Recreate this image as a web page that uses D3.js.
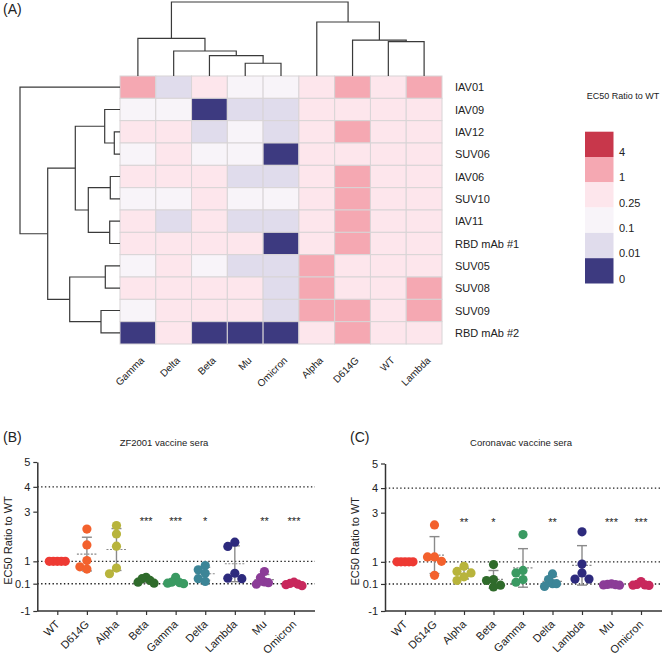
<!DOCTYPE html>
<html>
<head>
<meta charset="utf-8">
<script src="https://cdn.jsdelivr.net/npm/d3@7"></script>
<style>
  html, body { margin: 0; padding: 0; background: #fff; }
  svg { display: block; font-family: "Liberation Sans", Arial, sans-serif; }
  text { fill: #222; }
</style>
</head>
<body>
<svg id="chart" width="667" height="655"></svg>
<script>
// ---------------- DATA ----------------
// Heatmap (A)
const heatCols = ["Gamma", "Delta", "Beta", "Mu", "Omicron", "Alpha", "D614G", "WT", "Lambda"];
const heatRows = ["IAV01", "IAV09", "IAV12", "SUV06", "IAV06", "SUV10", "IAV11", "RBD mAb #1", "SUV05", "SUV08", "SUV09", "RBD mAb #2"];
const heatValues = [
  [1, 0.01, 0.25, 0.1, 0.1, 0.25, 1, 0.25, 1],
  [0.1, 0.1, 0, 0.01, 0.01, 0.25, 0.25, 0.25, 0.25],
  [0.25, 0.25, 0.01, 0.1, 0.01, 0.25, 1, 0.25, 0.25],
  [0.1, 0.25, 0.1, 0.1, 0, 0.25, 0.25, 0.25, 0.25],
  [0.25, 0.25, 0.25, 0.01, 0.01, 0.25, 1, 0.25, 0.25],
  [0.1, 0.1, 0.25, 0.1, 0.1, 0.25, 1, 0.25, 0.25],
  [0.25, 0.01, 0.25, 0.01, 0.01, 0.25, 1, 0.25, 0.25],
  [0.25, 0.25, 0.25, 0.25, 0, 0.25, 1, 0.25, 0.25],
  [0.1, 0.25, 0.1, 0.01, 0.01, 1, 0.25, 0.25, 0.25],
  [0.25, 0.25, 0.25, 0.25, 0.01, 1, 0.25, 0.25, 1],
  [0.1, 0.25, 0.25, 0.25, 0.01, 1, 1, 0.25, 1],
  [0, 0.25, 0, 0, 0, 0.25, 1, 0.25, 0.25]
];
const legendValues = [4, 1, 0.25, 0.1, 0.01, 0];
const legendColors = ["#c8374b", "#f5a8b2", "#fde6ec", "#f8f4f9", "#e0dcec", "#3d3a80"];

// Dendrogram merges: [childA, childB, height]; "n#" refers to earlier merge
const colMerges = [
  ["Mu", "Omicron", 1.72],
  ["Beta", "n0", 2.74],
  ["Delta", "n1", 3.38],
  ["Gamma", "n2", 5.09],
  ["WT", "Lambda", 4.64],
  ["D614G", "n4", 4.86],
  ["Alpha", "n5", 7.3],
  ["n3", "n6", 10.0]
];
const rowMerges = [
  ["IAV12", "SUV06", 0.57],
  ["IAV09", "n0", 1.53],
  ["IAV06", "SUV10", 0.97],
  ["IAV11", "RBD mAb #1", 1.03],
  ["n2", "n3", 3.17],
  ["n1", "n4", 4.47],
  ["SUV05", "SUV08", 1.47],
  ["SUV09", "RBD mAb #2", 1.9],
  ["n6", "n7", 5.03],
  ["n5", "n8", 7.23],
  ["IAV01", "n9", 10.0]
];

// Scatter panels (B) and (C)
const variants = ["WT", "D614G", "Alpha", "Beta", "Gamma", "Delta", "Lambda", "Mu", "Omicron"];
const variantColors = ["#ee3a33", "#f3612d", "#b8b43c", "#2f6b2b", "#3a9a62", "#3c8597", "#2d2a7d", "#8b3c97", "#c8285c"];
const yTicks = [-1, 0.1, 1, 3, 4, 5];
const refLines = [4, 1, 0.1];
const zf2001Values = [
  [1, 1, 1, 1, 1],
  [2.30, 1.66, 1.03, 0.78, 0.69],
  [2.44, 2.10, 1.61, 0.73, 0.50],
  [0.36, 0.30, 0.23, 0.16, 0.12],
  [0.36, 0.16, 0.14, 0.12, 0.10],
  [0.83, 0.66, 0.52, 0.30, 0.19],
  [1.77, 1.60, 0.52, 0.32, 0.30],
  [0.59, 0.34, 0.17, 0.14, 0.08],
  [0.16, 0.11, 0.08, 0.06, 0.02]
];
const coronavacValues = [
  [1, 1, 1, 1, 1],
  [2.50, 1.20, 1.20, 1.02, 0.45],
  [0.82, 0.61, 0.55, 0.39, 0.24],
  [0.89, 0.28, 0.24, 0.05, -0.02],
  [2.11, 0.65, 0.55, 0.28, 0.17],
  [0.51, 0.28, 0.11, 0.11, 0.00],
  [2.22, 0.91, 0.55, 0.30, 0.30],
  [0.10, 0.08, 0.07, 0.06, 0.05],
  [0.20, 0.08, 0.06, 0.05, 0.04]
];
const zf2001Sig = ["", "", "", "***", "***", "*", "", "**", "***"];
const coronavacSig = ["", "", "**", "*", "", "**", "", "***", "***"];
const sigLevel = 2.72;

// ---------------- DRAW ----------------
const svg = d3.select("#chart");
const FONT = "\"Liberation Sans\", Arial, sans-serif";

// ===== Panel A =====
svg.append("text").attr("x", 3).attr("y", 14).attr("font-size", 14).text("(A)");

const xH = d3.scaleBand().domain(heatCols).range([120, 442]);
const yH = d3.scaleBand().domain(heatRows).range([76, 344]);
const color = d3.scaleOrdinal().domain(legendValues).range(legendColors);

const gH = svg.append("g");
heatRows.forEach((r, i) => {
  heatCols.forEach((c, j) => {
    gH.append("rect")
      .attr("x", xH(c)).attr("y", yH(r))
      .attr("width", xH.bandwidth()).attr("height", yH.bandwidth())
      .attr("fill", color(heatValues[i][j]))
      .attr("stroke", "#d8d4d6").attr("stroke-width", 1);
  });
});

// row labels
heatRows.forEach(r => {
  svg.append("text").attr("x", 455).attr("y", yH(r) + yH.bandwidth() / 2 + 4)
    .attr("font-size", 11).text(r);
});
// column labels
heatCols.forEach(c => {
  const cx = xH(c) + xH.bandwidth() / 2;
  svg.append("text").attr("transform", `translate(${cx + 7},${361}) rotate(-45)`)
    .attr("text-anchor", "end").attr("font-size", 10).text(c);
});

// dendrograms
function drawDendro(merges, leafPos, hScale, orient) {
  const nodes = [];
  const pos = name => name.startsWith("n") && /^n\d+$/.test(name) ? nodes[+name.slice(1)] : { p: leafPos(name), h: 0 };
  const g = svg.append("g").attr("fill", "none").attr("stroke", "#3a3a3a").attr("stroke-width", 1.2);
  merges.forEach(([a, b, h]) => {
    const A = pos(a), B = pos(b);
    const node = { p: (A.p + B.p) / 2, h: h };
    nodes.push(node);
    const pts = [[A.p, A.h], [A.p, h], [B.p, h], [B.p, B.h]];
    const line = d3.line()
      .x(d => orient === "top" ? d[0] : hScale(d[1]))
      .y(d => orient === "top" ? hScale(d[1]) : d[0]);
    g.append("path").attr("d", line(pts));
  });
}
drawDendro(colMerges, c => xH(c) + xH.bandwidth() / 2, d3.scaleLinear().domain([0, 10]).range([76, 2]), "top");
drawDendro(rowMerges, r => yH(r) + yH.bandwidth() / 2, d3.scaleLinear().domain([0, 10]).range([120, 20]), "left");

// legend
svg.append("text").attr("x", 623).attr("y", 99).attr("text-anchor", "middle")
  .attr("font-size", 9).text("EC50 Ratio to WT");
const yL = d3.scaleBand().domain(legendValues).range([131.7, 283.5]);
legendValues.forEach(v => {
  svg.append("rect").attr("x", 585).attr("y", yL(v)).attr("width", 28.5).attr("height", yL.bandwidth())
    .attr("fill", color(v));
  svg.append("text").attr("x", 619).attr("y", yL(v) + yL.bandwidth() - 1)
    .attr("font-size", 11).text(v);
});

// ===== Panels B & C =====
function swarm(vals, y, step, minD, maxOff) {
  const order = vals.map((v, i) => i).sort((a, b) => vals[b] - vals[a]);
  const placed = [];
  const off = new Array(vals.length).fill(0);
  order.forEach(i => {
    const py = y(vals[i]);
    for (let k = 0; k < 30; k++) {
      const dx = k === 0 ? 0 : (k % 2 ? -1 : 1) * Math.ceil(k / 2) * step;
      if (placed.every(p => Math.hypot(p.dx - dx, p.y - py) >= minD - 0.01)) {
        off[i] = dx; placed.push({ dx, y: py }); break;
      }
    }
  });
  const m = d3.max(off, Math.abs);
  if (m > maxOff) return off.map(o => o * maxOff / m);
  return off;
}

function drawPanel(opt) {
  const g = svg.append("g");
  const y = d3.scaleLinear().domain([-1, 5]).range([611, opt.top]);
  const x = d3.scalePoint().domain(variants).range([opt.x0 + 20, opt.x1 - 21]);

  g.append("text").attr("x", opt.labelX).attr("y", 442).attr("font-size", 14).text(opt.tag);
  g.append("text").attr("x", opt.titleX).attr("y", 446).attr("text-anchor", "middle")
    .attr("font-size", 9.5).text(opt.title);

  // reference dotted lines
  refLines.forEach(v => {
    g.append("line").attr("x1", opt.x0).attr("x2", opt.x1).attr("y1", y(v)).attr("y2", y(v))
      .attr("stroke", "#222").attr("stroke-width", 1.4).attr("stroke-dasharray", "1.4,2.4");
  });

  // y axis
  const ya = g.append("g").attr("transform", `translate(${opt.x0},0)`)
    .call(d3.axisLeft(y).tickValues(yTicks).tickSize(4).tickSizeOuter(0).tickPadding(3).tickFormat(d => String(d)));
  ya.select(".domain").attr("stroke", "#333").attr("stroke-width", 1.5);
  ya.selectAll(".tick line").attr("stroke", "#333").attr("stroke-width", 1.2);
  ya.selectAll(".tick text").attr("font-size", 11).attr("font-family", FONT).attr("fill", "#222");

  // x axis
  const xa = g.append("g").attr("transform", `translate(0,611)`)
    .call(d3.axisBottom(x).tickSize(4).tickSizeOuter(0).tickFormat(""));
  xa.select(".domain").remove();
  xa.selectAll(".tick line").attr("stroke", "#333").attr("stroke-width", 1.2);
  g.append("line").attr("x1", opt.x0).attr("x2", opt.x1).attr("y1", 611).attr("y2", 611)
    .attr("stroke", "#333").attr("stroke-width", 1.5);
  variants.forEach(v => {
    g.append("text").attr("transform", `translate(${x(v) + 3},625) rotate(-45)`)
      .attr("text-anchor", "end").attr("font-size", 11).text(v);
  });

  // y label
  g.append("text").attr("transform", `translate(${opt.yLabelX},${(y(-1) + y(5)) / 2 + 4}) rotate(-90)`)
    .attr("text-anchor", "middle").attr("font-size", 11).text("EC50 Ratio to WT");

  // groups
  variants.forEach((v, i) => {
    const vals = opt.values[i];
    const cx = x(v);
    const mean = d3.mean(vals), sd = d3.deviation(vals);
    const eb = g.append("g").attr("stroke", "#8a8a8a").attr("stroke-width", 1.4);
    if (sd > 0) {
      eb.append("line").attr("x1", cx).attr("x2", cx).attr("y1", y(mean - sd)).attr("y2", y(mean + sd));
      [mean - sd, mean + sd].forEach(e => {
        eb.append("line").attr("x1", cx - 5).attr("x2", cx + 5).attr("y1", y(e)).attr("y2", y(e));
      });
    }
    g.append("line").attr("x1", cx - 10).attr("x2", cx + 10).attr("y1", y(mean)).attr("y2", y(mean))
      .attr("stroke", "#8a8a8a").attr("stroke-width", 1.2).attr("stroke-dasharray", "2,1.5");
    const off = swarm(vals, y, 7, 7, 8);
    vals.forEach((d, k) => {
      g.append("circle").attr("cx", cx + off[k]).attr("cy", y(d)).attr("r", 4.6)
        .attr("fill", variantColors[i]);
    });
    if (opt.sig[i]) {
      g.append("text").attr("x", cx).attr("y", y(sigLevel) + 6).attr("text-anchor", "middle")
        .attr("font-size", 11).text(opt.sig[i]);
    }
  });
}

drawPanel({ tag: "(B)", labelX: 3, title: "ZF2001 vaccine sera", titleX: 164, x0: 37.3, x1: 315,
  top: 462, yLabelX: 12, values: zf2001Values, sig: zf2001Sig });
drawPanel({ tag: "(C)", labelX: 350, title: "Coronavac vaccine sera", titleX: 521, x0: 385, x1: 662,
  top: 463.5, yLabelX: 359, values: coronavacValues, sig: coronavacSig });
</script>
</body>
</html>
